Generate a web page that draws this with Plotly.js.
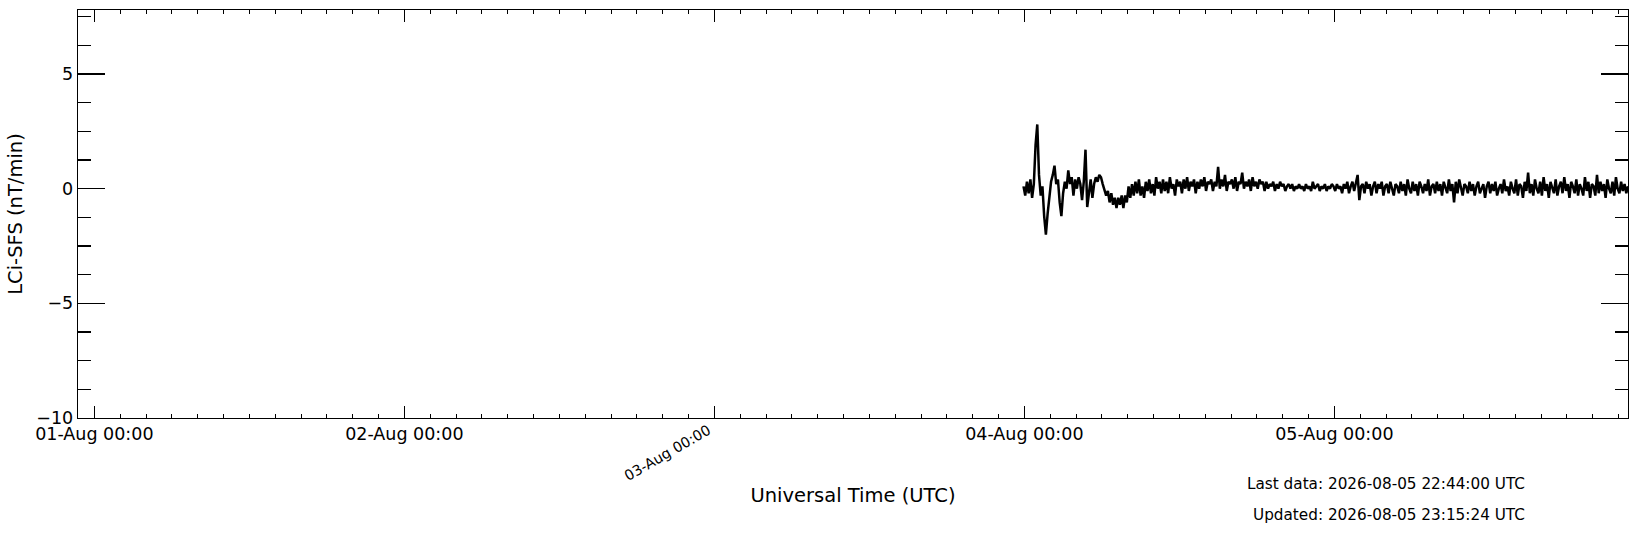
<!DOCTYPE html>
<html>
<head>
<meta charset="utf-8">
<script src="https://cdn.plot.ly/plotly-3.0.1.min.js"></script>
<style>
  html, body { margin: 0; padding: 0; background: #fff; }
  #chart { width: 1637px; height: 533px; }
</style>
</head>
<body>
<div id="chart"></div>
<script>
// LCi-SFS, 8-minute samples starting 03-Aug 23:56 UTC
var startTime = '2026-08-03T23:56:00';
var stepMinutes = 8;

var sfsValues = [
  0.1, -0.3, 0.3, -0.2, 0.4, -0.4, 0.2, 1.9, 2.8, 0.6, -0.3, 0.1, -1.2, -2.0, -1.1, -0.4,
  0.3, 0.6, 1.0, 0.2, 0.4, -0.6, -1.2, -0.2, 0.3, 0.0, 0.8, 0.2, 0.5, -0.3, 0.4, 0.0,
  0.5, 0.2, -0.5, 0.3, 1.7, -0.8, -0.2, 0.4, -0.4, 0.2, 0.5, 0.3, 0.6, 0.5, 0.2, -0.1,
  -0.3, -0.1, -0.6, -0.2, -0.7, -0.4, -0.85, -0.4, -0.7, -0.3, -0.85, -0.3, -0.6,
  0.1, -0.4, 0.2, -0.3, 0.3, -0.2, 0.4, -0.3, 0.1, -0.4, 0.3, -0.1, 0.4, -0.2, 0.2, -0.3, 0.5, 0.0, 0.3, -0.2,
  0.4, -0.1, 0.3, -0.2, 0.5, 0.0, 0.2, -0.3, 0.4, 0.1, 0.3, -0.2, 0.4, 0.0, 0.5, -0.1, 0.3, 0.1, 0.4, -0.2,
  0.3, 0.0, 0.4, 0.1, 0.5, -0.1, 0.3, 0.2, 0.4, -0.1, 0.3, 0.1, 0.95, 0.0, 0.4, 0.1, 0.6, -0.1, 0.3, 0.2,
  0.4, 0.0, 0.5, -0.1, 0.3, 0.2, 0.7, 0.0, 0.3, 0.1, 0.4, -0.1, 0.5, 0.1, 0.3, 0.0, 0.4, 0.2, 0.3, -0.1,
  0.3, 0.0, 0.2, 0.1, 0.3, -0.1, 0.2, 0.0, 0.3, 0.1, 0.2, -0.1, 0.1, 0.2, 0.0, 0.2, -0.1, 0.1, 0.0, 0.2,
  0.0, 0.1, -0.1, 0.2, 0.0, 0.1, -0.1, 0.3, 0.0, 0.1, 0.2, -0.1, 0.1, 0.0, 0.2, -0.1, 0.1, 0.0, 0.2, 0.1,
  -0.1, 0.2, 0.0, 0.1, -0.2, 0.2, 0.0, 0.3, -0.2, 0.1, 0.3, -0.1, 0.2, 0.6, -0.5, 0.1, 0.2, -0.2, 0.3, 0.0,
  0.2, -0.3, 0.1, 0.3, -0.2, 0.2, 0.0, 0.3, -0.3, 0.1, 0.2, -0.2, 0.3, 0.0, -0.3, 0.2, 0.1, -0.2, 0.3, -0.1,
  0.2, -0.3, 0.4, 0.0, -0.2, 0.3, -0.1, 0.2, -0.3, 0.3, 0.1, -0.2, 0.2, -0.1, 0.4, -0.3, 0.1, 0.2, -0.2, 0.3,
  -0.1, 0.2, -0.3, 0.3, 0.0, -0.2, 0.4, -0.1, 0.2, -0.6, 0.3, -0.2, 0.4, 0.0, -0.3, 0.2, 0.1, -0.2, 0.3, -0.1,
  0.2, -0.3, 0.1, 0.3, -0.2, 0.0, 0.2, -0.4, 0.1, 0.3, -0.2, 0.2, -0.1, 0.3, -0.3, 0.0, 0.2, -0.2, 0.4, -0.1,
  0.1, -0.3, 0.3, 0.0, -0.2, 0.4, -0.3, 0.2, 0.1, -0.4, 0.3, -0.1, 0.7, -0.2, 0.2, -0.3, 0.4, 0.0, -0.2, 0.3,
  -0.3, 0.5, -0.1, 0.2, -0.4, 0.3, 0.0, -0.2, 0.4, -0.3, 0.1, 0.3, -0.2, 0.5, -0.1, 0.2, -0.4, 0.3, 0.1, -0.2,
  0.4, -0.3, 0.2, 0.0, -0.3, 0.5, -0.1, 0.3, -0.4, 0.2, 0.1, -0.3, 0.6, -0.2, 0.3, -0.1, 0.2, -0.4, 0.4, 0.0,
  -0.2, 0.3, -0.3, 0.5, 0.0, -0.2, 0.3, -0.1, 0.2, -0.2, 0.1
];

var dayTicks = ['2026-08-01', '2026-08-02', '2026-08-03', '2026-08-04', '2026-08-05'];
var dayLabels = ['01-Aug 00:00', '02-Aug 00:00', '', '04-Aug 00:00', '05-Aug 00:00'];
var tiltedLabel = '03-Aug 00:00';
var xRange = ['2026-07-31 22:44', '2026-08-05 22:44'];
var yRange = [-10, 7.79];
var lastDataText = 'Last data: 2026-08-05 22:44:00 UTC';
var updatedText = 'Updated: 2026-08-05 23:15:24 UTC';

function pad(n) { return (n < 10 ? '0' : '') + n; }

function timeAxis(start, step, n) {
  var t0 = new Date(start + 'Z').getTime();
  var out = [];
  for (let i = 0; i < n; i++) {
    var d = new Date(t0 + i * step * 60000);
    out.push(d.getUTCFullYear() + '-' + pad(d.getUTCMonth() + 1) + '-' + pad(d.getUTCDate()) +
      ' ' + pad(d.getUTCHours()) + ':' + pad(d.getUTCMinutes()));
  }
  return out;
}

var times = timeAxis(startTime, stepMinutes, sfsValues.length);

var trace = {
  x: times,
  y: sfsValues,
  type: 'scatter',
  mode: 'lines',
  line: { color: '#000', width: 2.5 },
  hoverinfo: 'skip'
};

var FONT = 'DejaVu Sans, sans-serif';

var layout = {
  width: 1637,
  height: 533,
  margin: { l: 78, r: 9, t: 10, b: 115 },
  paper_bgcolor: '#fff',
  plot_bgcolor: '#fff',
  showlegend: false,
  font: { family: FONT, color: '#000', size: 17.5 },
  xaxis: {
    type: 'date',
    range: xRange,
    tickmode: 'array',
    tickvals: dayTicks,
    ticktext: dayLabels,
    ticks: 'inside',
    ticklen: 12,
    tickwidth: 1.3,
    tickcolor: '#000',
    minor: { dtick: 7200000, tick0: '2026-08-01', ticks: 'inside', ticklen: 4, tickwidth: 1, tickcolor: '#000', showgrid: false },
    showline: true,
    linecolor: '#000',
    linewidth: 1.3,
    mirror: 'ticks',
    showgrid: false,
    zeroline: false,
    tickfont: { size: 17.5 },
    title: { text: 'Universal Time (UTC)', font: { size: 19.5 }, standoff: 45 },
    automargin: false
  },
  yaxis: {
    range: yRange,
    tickmode: 'linear',
    tick0: 0,
    dtick: 5,
    ticks: 'inside',
    ticklen: 27,
    tickwidth: 1.3,
    tickcolor: '#000',
    minor: { dtick: 1.25, tick0: 0, ticks: 'inside', ticklen: 13, tickwidth: 1.1, tickcolor: '#000', showgrid: false },
    showline: true,
    linecolor: '#000',
    linewidth: 1.3,
    mirror: 'ticks',
    showgrid: false,
    zeroline: false,
    tickfont: { size: 17.5 },
    title: { text: 'LCi-SFS (nT/min)', font: { size: 19.5 }, standoff: 8 },
    automargin: false
  },
  annotations: [
    {
      text: tiltedLabel, xref: 'x', yref: 'paper',
      x: '2026-08-02 20:20', y: -0.085,
      xanchor: 'center', yanchor: 'middle',
      textangle: -30, showarrow: false,
      font: { size: 14.3, family: FONT }
    },
    {
      text: lastDataText, xref: 'paper', yref: 'paper',
      x: 0.9348, y: -0.162, xanchor: 'right', yanchor: 'middle',
      showarrow: false, font: { size: 15.25, family: FONT }
    },
    {
      text: updatedText, xref: 'paper', yref: 'paper',
      x: 0.9348, y: -0.238, xanchor: 'right', yanchor: 'middle',
      showarrow: false, font: { size: 15.25, family: FONT }
    }
  ]
};

Plotly.newPlot('chart', [trace], layout, { displayModeBar: false, staticPlot: true });
</script>
</body>
</html>
